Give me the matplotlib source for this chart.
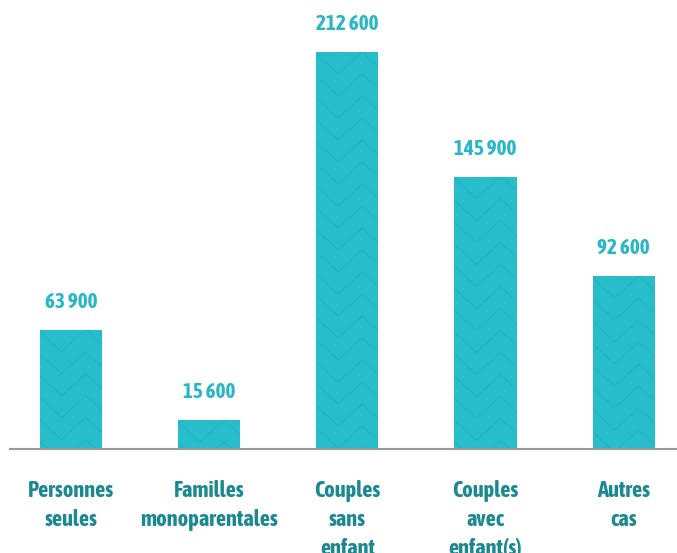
import numpy as np
import matplotlib.pyplot as plt
from matplotlib import font_manager

categories = ['Personnes\nseules', 'Familles\nmonoparentales', 'Couples\nsans\nenfant',
              'Couples\navec\nenfant(s)', 'Autres\ncas']
values = [63900, 15600, 212600, 145900, 92600]
value_labels = ['63 900', '15 600', '212 600', '145 900', '92 600']

# pick a narrow bold font if one is installed
fonts = font_manager.fontManager.ttflist
def is_bold(f):
    return f.weight in ('bold', 'semibold', 'demibold', 'heavy', 'black') or \
        (isinstance(f.weight, int) and f.weight >= 600)
narrow = sorted({f.name for f in fonts
                 if ('Narrow' in f.name or 'Condensed' in f.name) and is_bold(f)})
cond = sorted({f.name for f in fonts if f.stretch in ('condensed', 'semi-condensed')
               and is_bold(f)})
if narrow:
    font = narrow[0]
elif cond:
    font = cond[0]
else:
    font = 'Lato'
plt.rcParams['font.family'] = [font, 'DejaVu Sans']
plt.rcParams['font.stretch'] = 'condensed'

bar_color = '#27BDCB'
label_color = '#1B8A90'
value_color = '#2AB7C5'

fig = plt.figure(figsize=(6.77, 5.53), dpi=100)
ax = fig.add_axes([10 / 677, 104 / 553, 667 / 677, 449 / 553])

x = np.arange(len(values))
bars = ax.bar(x, values, width=0.45, color=bar_color, zorder=2)

ax.set_xlim(-0.44, 4.385)
ax.set_ylim(0, 240450)

# subtle chevron pattern inside the bars
px_x = 1 / 138.25
px_y = 212600 / 397
half = 24 * px_x
amp = 22 * px_y
for bar in bars:
    x0 = bar.get_x()
    h = bar.get_height()
    low = x0 + 22 * px_x
    xs = low + half * np.arange(-3, 6)
    zig = amp * (np.arange(-3, 6) % 2)
    for base in np.arange(h + amp, -2 * amp, -amp):
        line, = ax.plot(xs, base - amp + zig, color='#23B5C2', lw=1.0, zorder=3)
        line.set_clip_path(bar)

value_texts = []
for xi, v, lab in zip(x, values, value_labels):
    t = ax.annotate(lab, (xi, v), xytext=(0, 20), textcoords='offset points',
                    ha='center', va='center', fontsize=13, fontweight='bold',
                    color=value_color)
    value_texts.append(t)

ax.set_xticks(x)
ax.set_xticklabels(categories, fontsize=14.5, fontweight='bold', color=label_color,
                   va='top')
ax.tick_params(axis='x', length=0, pad=22)
ax.set_yticks([])
for side in ['left', 'right', 'top']:
    ax.spines[side].set_visible(False)
ax.spines['bottom'].set_color('#999999')
ax.spines['bottom'].set_linewidth(1.5)
ax.spines['bottom'].set_zorder(4)

# scale font sizes so the widest texts match the reference widths
fig.canvas.draw()
r = fig.canvas.get_renderer()
lab = ax.get_xticklabels()[1]
w = lab.get_window_extent(r).width
size = 14.5 * 138 / w
for t in ax.get_xticklabels():
    t.set_fontsize(size)
    t.set_linespacing(28.5 / (1.237 * size))
w = value_texts[2].get_window_extent(r).width
vsize = 13 * 62 / w
for t in value_texts:
    t.set_fontsize(vsize)

fig.savefig('out.png', dpi=100)
